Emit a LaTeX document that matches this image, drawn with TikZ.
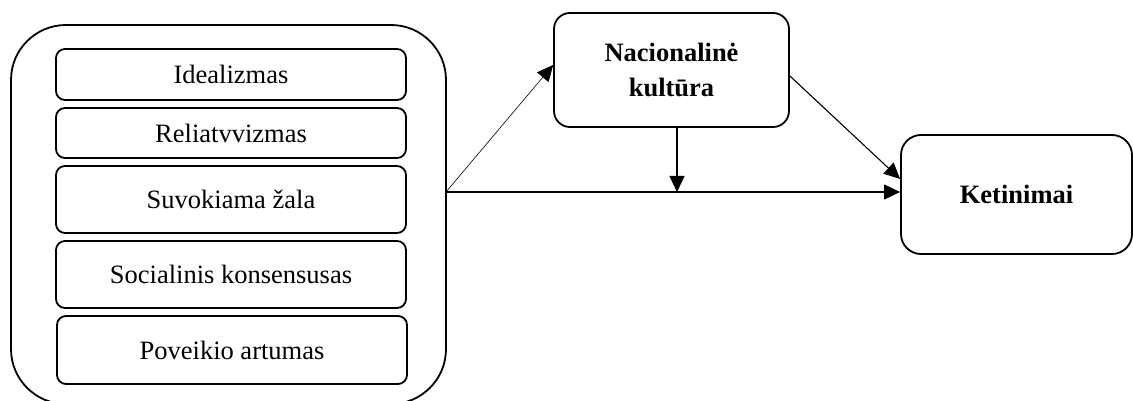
\documentclass[tikz,border=0pt]{standalone}
\usepackage{fontspec}
\setmainfont{Liberation Serif}
\usetikzlibrary{arrows.meta,calc}

\tikzset{
  factor/.style={draw, line width=1.8pt, rounded corners=9pt, minimum width=350pt,
    inner sep=0pt, font=\fontsize{26.5}{32}\selectfont},
  group/.style={draw, line width=1.8pt, rounded corners=55pt, inner sep=0pt},
  mainbox/.style={draw, line width=1.8pt, inner sep=0pt, align=center,
    font=\fontsize{26.5}{35}\selectfont\bfseries},
  link/.style={line width=1.1pt, -{Triangle[length=16pt,width=15pt]}},
  thinlink/.style={line width=0.6pt, -{Triangle[length=16pt,width=15pt]}}
}

\begin{document}
\begin{tikzpicture}[x=1pt,y=-1pt]
  \useasboundingbox (0,0) rectangle (1133,401);
  \clip (0,0) rectangle (1133,401);

  % enclosing group of the five ethical factors
  \node[group, minimum width=435pt, minimum height=379pt] (grp) at (228.5,214.5) {};

  \node[factor, minimum height=51pt] (f1) at (231,74.5) {Idealizmas};
  \node[factor, minimum height=50pt] (f2) at (231,133) {Reliatvvizmas};
  \node[factor, minimum height=67pt] (f3) at (231,199.5) {Suvokiama žala};
  \node[factor, minimum height=67pt] (f4) at (231,274.5) {Socialinis konsensusas};
  \node[factor, minimum height=68pt] (f5) at (232,350) {Poveikio artumas};

  % moderator and outcome
  \node[mainbox, rounded corners=16pt, minimum width=235pt, minimum height=114pt]
    (nat) at (671.5,70) {Nacionalinė\\kultūra};
  \node[mainbox, rounded corners=20pt, minimum width=231pt, minimum height=119pt]
    (ket) at (1016.5,194.5) {Ketinimai};

  % connectors
  \coordinate (split) at (446,192);
  \draw[thinlink] (split) -- ([yshift=5pt]nat.west);
  \draw[link] (split) -- (split -| ket.west);
  \draw[link] ([xshift=5.5pt]nat.south) -- ([xshift=5.5pt]nat.south |- split);
  \draw[link] ([yshift=-6pt]nat.east) -- ([yshift=15.5pt]ket.west);
\end{tikzpicture}
\end{document}
